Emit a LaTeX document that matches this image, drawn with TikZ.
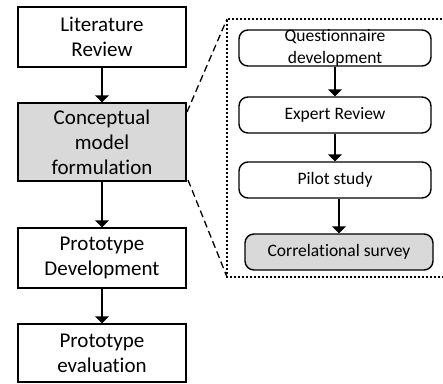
\documentclass[tikz,border=0pt]{standalone}
\usepackage{fontspec}
\setmainfont{Carlito}[Ligatures=NoCommon]
\usetikzlibrary{arrows.meta}
\begin{document}
\begin{tikzpicture}[x=1pt,y=-1pt,
  lbox/.style={draw=black, line width=1.4pt, rectangle, minimum width=168pt, inner sep=0pt, align=center, font=\fontsize{21}{25}\selectfont},
  rbox/.style={draw=black, line width=1.4pt, rectangle, rounded corners=9pt, minimum height=36pt, inner sep=0pt, align=center, font=\fontsize{17.5}{22}\selectfont},
  flow/.style={line width=1.4pt, -{Triangle[width=14pt,length=7pt]}},
  grayfill/.style={fill=gray!30}]
\useasboundingbox (0,0) rectangle (443,383);
% zoom frame
\draw[line width=1.4pt, dash pattern=on 2pt off 2pt] (446,19) -- coordinate (frTR) (227,19) coordinate (frTL) -- (227,277) coordinate (frBL) -- (446,277);
% left column
\node[lbox, minimum height=60pt] (lit) at (102,37) {Literature\\Review};
\node[lbox, grayfill, minimum height=78pt] (con) at (102,142) {Conceptual\\model\\formulation};
\node[lbox, minimum height=60pt] (dev) at (102,258) {Prototype\\Development};
\node[lbox, minimum height=58pt] (eva) at (102,353) {Prototype\\evaluation};
\draw[flow] (lit) -- (con);
\draw[flow] (con) -- (dev);
\draw[flow] (dev) -- (eva);
% dashed connectors
\coordinate (conTR) at (187,112);
\coordinate (conBR) at (188,180);
\draw[line width=1.3pt, dash pattern=on 7pt off 4pt] (conTR) -- (frTL);
\draw[line width=1.3pt, dash pattern=on 7pt off 4pt] (conBR) -- (frBL);
% right column
\node[rbox, minimum width=192pt] (q) at (335,48) {};
\node[align=center, inner sep=0pt, font=\fontsize{17.5}{22}\selectfont] (qt) at (335,48) {Questionnaire\\development};
\node[rbox, minimum width=192pt] (e) at (335,115) {Expert Review};
\node[rbox, minimum width=192pt] (p) at (335,180) {Pilot study};
\node[rbox, grayfill, minimum width=188pt] (c) at (339,252) {Correlational survey};
\draw[flow] (q) -- (e);
\draw[flow] (e) -- (p);
\draw[flow] (p.south -| c.north) -- (c.north);
\end{tikzpicture}
\end{document}
